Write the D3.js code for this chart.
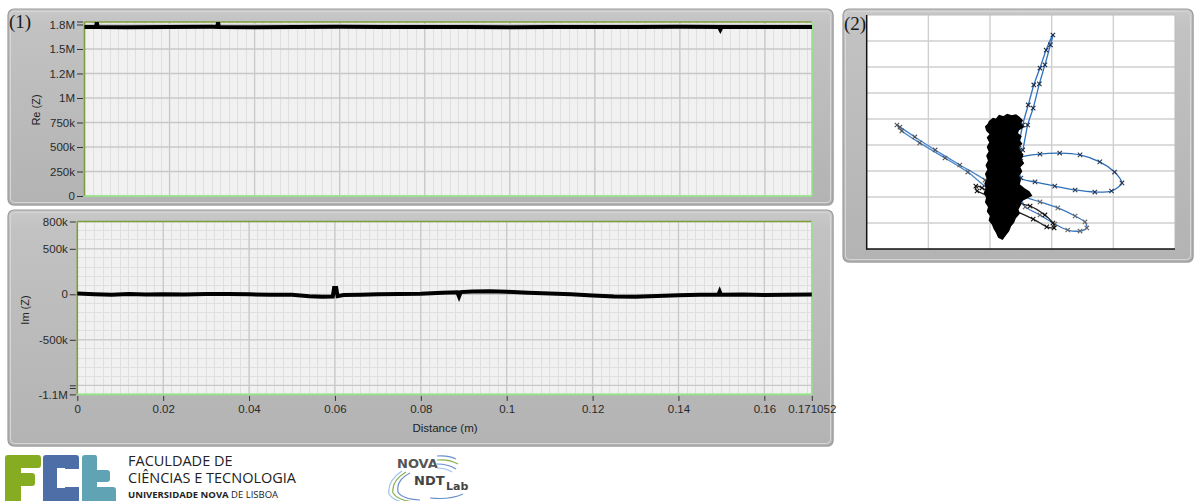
<!DOCTYPE html>
<html>
<head>
<meta charset="utf-8">
<script src="https://cdn.jsdelivr.net/npm/d3@7"></script>
<style>
  html, body { margin: 0; padding: 0; background: #ffffff; }
  svg { display: block; }
  text { font-family: "Liberation Sans", Arial, sans-serif; }
</style>
</head>
<body>
<svg id="chart" width="1195" height="501"></svg>
<script>
// ---- Data -------------------------------------------------------------
// Re(Z) along the scan (distance in m, impedance in ohm)
const reDist = [0, 0.0027, 0.0029, 0.0031, 0.01, 0.02, 0.03, 0.0312, 0.0314, 0.0316, 0.04, 0.05, 0.06, 0.07, 0.08, 0.09, 0.1, 0.11, 0.12, 0.13, 0.14, 0.1492, 0.1495, 0.1498, 0.16, 0.171052];
const reValue = [1725000, 1725000, 1772000, 1725000, 1723000, 1725000, 1726000, 1725000, 1772000, 1725000, 1723000, 1725000, 1726000, 1725000, 1724000, 1725000, 1723000, 1725000, 1724000, 1725000, 1726000, 1724000, 1698000, 1724000, 1725000, 1724000];

// Im(Z) along the scan
const imDist = [0, 0.004, 0.008, 0.012, 0.016, 0.02, 0.025, 0.03, 0.035, 0.04, 0.045, 0.05, 0.054, 0.057, 0.0595, 0.0598, 0.0603, 0.0606, 0.062, 0.066, 0.07, 0.075, 0.08, 0.085, 0.0885, 0.0889, 0.0893, 0.092, 0.096, 0.1, 0.105, 0.11, 0.115, 0.12, 0.125, 0.13, 0.135, 0.14, 0.145, 0.1493, 0.1496, 0.1499, 0.155, 0.16, 0.165, 0.171052];
const imValue = [8000, 0, -5000, 3000, -2000, 0, -3000, 2000, 4000, 0, -4000, -6000, -22000, -28000, -25000, 70000, 70000, -20000, -8000, -4000, 0, 3000, 6000, 18000, 22000, -25000, 24000, 32000, 34000, 28000, 18000, 10000, 0, -14000, -24000, -26000, -20000, -10000, -6000, -4000, 30000, -4000, -3000, -8000, -5000, -3000];

// Axis ticks
const reTicks = [0, 250000, 500000, 750000, 1000000, 1250000, 1500000, 1750000];
const reTickLabels = ["0", "250k", "500k", "750k", "1M", "1.2M", "1.5M", "1.8M"];
const imTicks = [800000, 500000, 0, -500000, -1000000, -1100000];
const imTickLabels = ["800k", "500k", "0", "-500k", "", "-1.1M"];
const distTicks = [0, 0.02, 0.04, 0.06, 0.08, 0.1, 0.12, 0.14, 0.16, 0.171052];
const distTickLabels = ["0", "0.02", "0.04", "0.06", "0.08", "0.1", "0.12", "0.14", "0.16", "0.171052"];

// Impedance-plane view (grid units): outline of the dense point cloud
const cloudU = [1.99, 2.05, 2.10, 2.15, 2.22, 2.28, 2.35, 2.42, 2.47, 2.52, 2.49, 2.54, 2.46, 2.44, 2.50, 2.47, 2.51, 2.45, 2.48, 2.53, 2.50, 2.54, 2.48, 2.51, 2.46, 2.49, 2.47, 2.55, 2.63, 2.67, 2.58, 2.51, 2.49, 2.45, 2.47, 2.41, 2.38, 2.33, 2.30, 2.25, 2.20, 2.14, 2.11, 2.07, 2.04, 1.99, 2.01, 1.96, 1.98, 1.93, 1.95, 1.91, 1.94, 1.92, 1.96, 1.93, 1.97, 1.94, 1.98, 1.95, 1.99, 1.96, 2.00, 1.96, 2.01, 1.95, 1.93, 1.97];
const cloudV = [4.90, 5.02, 4.98, 5.13, 5.08, 5.17, 5.12, 5.15, 5.06, 4.95, 4.82, 4.70, 4.58, 4.45, 4.33, 4.18, 4.05, 3.92, 3.78, 3.62, 3.45, 3.30, 3.15, 2.98, 2.82, 2.65, 2.48, 2.32, 2.20, 2.06, 1.95, 1.86, 1.70, 1.52, 1.36, 1.20, 1.02, 0.88, 0.70, 0.55, 0.38, 0.45, 0.62, 0.78, 0.95, 1.10, 1.28, 1.45, 1.62, 1.80, 1.98, 2.15, 2.35, 2.52, 2.70, 2.88, 3.05, 3.22, 3.40, 3.58, 3.75, 3.92, 4.10, 4.28, 4.42, 4.55, 4.70, 4.80];

// Excursion loops leaving the cloud
const loopUpU = [2.47, 2.53, 2.62, 2.71, 2.81, 2.91, 3.02, 2.98, 2.89, 2.80, 2.70, 2.61, 2.53];
const loopUpV = [3.88, 4.77, 5.54, 6.31, 6.96, 7.65, 8.23, 7.85, 7.08, 6.35, 5.42, 4.77, 3.81];
const loopLeftU = [1.92, 1.51, 1.11, 0.78, 0.54, 0.49, 0.57, 0.86, 1.27, 1.64, 1.95];
const loopLeftV = [2.65, 3.23, 3.81, 4.31, 4.69, 4.77, 4.54, 4.08, 3.50, 2.96, 2.35];
const loopRightU = [2.50, 2.81, 3.13, 3.46, 3.78, 4.02, 4.14, 3.97, 3.70, 3.38, 3.05, 2.73, 2.50];
const loopRightV = [3.50, 3.65, 3.69, 3.62, 3.35, 2.96, 2.54, 2.23, 2.19, 2.27, 2.42, 2.58, 2.73];
const loopLowU = [2.52, 2.81, 3.10, 3.38, 3.54, 3.57, 3.46, 3.26, 3.05, 2.81, 2.57];
const loopLowV = [2.00, 1.81, 1.58, 1.27, 1.04, 0.81, 0.69, 0.73, 0.96, 1.31, 1.62];
const loopSmallU = [1.77, 1.87, 2.16, 2.65, 2.89, 3.02, 3.04, 2.92, 2.70, 2.32, 1.97, 1.79];
const loopSmallV = [2.42, 2.35, 1.96, 1.65, 1.31, 1.00, 0.81, 0.85, 1.15, 1.58, 2.04, 2.23];

// ---- Drawing ------------------------------------------------------------
const svg = d3.select("#chart");
const defs = svg.append("defs");

const grad = defs.append("linearGradient").attr("id", "panelFill")
  .attr("x1", 0).attr("y1", 0).attr("x2", 0).attr("y2", 1);
grad.append("stop").attr("offset", "0%").attr("stop-color", "#c9c9c9");
grad.append("stop").attr("offset", "8%").attr("stop-color", "#c2c2c2");
grad.append("stop").attr("offset", "100%").attr("stop-color", "#b3b3b3");

function panel(x, y, w, h) {
  svg.append("rect").attr("x", x + 1).attr("y", y + 1).attr("width", w).attr("height", h)
    .attr("rx", 6).attr("fill", "#d9d9d9");
  svg.append("rect").attr("x", x).attr("y", y).attr("width", w).attr("height", h)
    .attr("rx", 6).attr("fill", "url(#panelFill)").attr("stroke", "#9a9a9a").attr("stroke-width", 1.2);
  svg.append("rect").attr("x", x + 2.5).attr("y", y + 2.5).attr("width", w - 5).attr("height", h - 5)
    .attr("rx", 4).attr("fill", "none").attr("stroke", "#d6d6d6").attr("stroke-width", 1);
}

panel(8, 9, 825, 196);
panel(8, 210, 825, 236);
panel(843, 9, 350, 253);

const domainX = [0, 0.171052];

// Shared grid + trace routine for the two strip charts
function stripChart(opts) {
  const { x, y, minorY, data, ticks, tickLabels, showX } = opts;
  const [x0, x1] = x.range();
  const [yb, yt] = y.range();
  const g = svg.append("g");
  g.append("rect").attr("x", x0).attr("y", yt).attr("width", x1 - x0).attr("height", yb - yt)
    .attr("fill", "#f1f1f1");

  // minor vertical grid every 0.002 m
  const minorX = d3.range(0, 0.171052, 0.002);
  g.selectAll(".mx").data(minorX).join("line")
    .attr("x1", d => x(d)).attr("x2", d => x(d)).attr("y1", yt).attr("y2", yb)
    .attr("stroke", "#dfdfdf").attr("stroke-width", 1).attr("shape-rendering", "crispEdges");
  if (minorY) {
    g.selectAll(".my").data(minorY).join("line")
      .attr("x1", x0).attr("x2", x1).attr("y1", d => y(d)).attr("y2", d => y(d))
      .attr("stroke", "#dfdfdf").attr("stroke-width", 1).attr("shape-rendering", "crispEdges");
  }
  // major grid
  g.selectAll(".gx").data(distTicks.slice(1, -1)).join("line")
    .attr("x1", d => x(d)).attr("x2", d => x(d)).attr("y1", yt).attr("y2", yb)
    .attr("stroke", "#c8c8c8").attr("stroke-width", 1.3);
  g.selectAll(".gy").data(ticks).join("line")
    .attr("x1", x0).attr("x2", x1).attr("y1", d => y(d)).attr("y2", d => y(d))
    .attr("stroke", "#c8c8c8").attr("stroke-width", 1.3);

  // plot border (olive on left/top, bright green on right/bottom)
  g.append("line").attr("x1", x0).attr("x2", x0).attr("y1", yt).attr("y2", yb).attr("stroke", "#7e9e3c").attr("stroke-width", 1.6);
  g.append("line").attr("x1", x0).attr("x2", x1).attr("y1", yt).attr("y2", yt).attr("stroke", "#7e9e3c").attr("stroke-width", 1.6);
  g.append("line").attr("x1", x1).attr("x2", x1).attr("y1", yt).attr("y2", yb).attr("stroke", "#8fe882").attr("stroke-width", 1.6);
  g.append("line").attr("x1", x0).attr("x2", x1).attr("y1", yb).attr("y2", yb).attr("stroke", "#8fe882").attr("stroke-width", 1.6);

  // trace
  const line = d3.line().x(d => x(d[0])).y(d => y(d[1]));
  g.append("path").datum(data).attr("d", line)
    .attr("fill", "none").attr("stroke", "#000").attr("stroke-width", 4)
    .attr("stroke-linejoin", "miter").attr("stroke-linecap", "butt");

  // y axis
  const ay = d3.axisLeft(y).tickValues(ticks)
    .tickFormat((d, i) => tickLabels[i]).tickSize(6).tickPadding(2);
  const gy = svg.append("g").attr("transform", `translate(${x0 - 1.5},0)`).call(ay);
  gy.select(".domain").remove();
  gy.selectAll(".tick line").attr("stroke", "#333");
  gy.selectAll(".tick text").attr("fill", "#2a2a2a").style("font-size", "11.5px")
    .style("font-family", "'Liberation Sans', Arial, sans-serif");
  if (opts.extraTick !== undefined) {
    svg.append("line").attr("x1", x0 - 7.5).attr("x2", x0 - 1.5)
      .attr("y1", y(opts.extraTick)).attr("y2", y(opts.extraTick)).attr("stroke", "#333");
  }

  if (showX) {
    const ax = d3.axisBottom(x).tickValues(distTicks)
      .tickFormat((d, i) => distTickLabels[i]).tickSize(5).tickPadding(4);
    const gx = svg.append("g").attr("transform", `translate(0,${yb + 1.5})`).call(ax);
    gx.select(".domain").remove();
    gx.selectAll(".tick line").attr("stroke", "#333");
    gx.selectAll(".tick text").attr("fill", "#2a2a2a").style("font-size", "11.5px")
      .style("font-family", "'Liberation Sans', Arial, sans-serif");
  }
}

// Re(Z) strip chart
const xRe = d3.scaleLinear(domainX, [84.5, 812]);
const yRe = d3.scaleLinear([0, 1775500], [196, 22]);
stripChart({
  x: xRe, y: yRe, minorY: null,
  data: reDist.map((d, i) => [d, reValue[i]]),
  ticks: reTicks, tickLabels: reTickLabels, showX: false, extraTick: 1775500
});

// Im(Z) strip chart
const xIm = d3.scaleLinear(domainX, [77.3, 811.8]);
const yIm = d3.scaleLinear([-1100000, 800000], [394.4, 221.5]);
stripChart({
  x: xIm, y: yIm, minorY: d3.range(-1100000, 800001, 100000),
  data: imDist.map((d, i) => [d, imValue[i]]),
  ticks: imTicks, tickLabels: imTickLabels, showX: true, extraTick: -1035000
});

// Axis titles
svg.append("text").attr("transform", "translate(40,110) rotate(-90)")
  .attr("text-anchor", "middle").style("font-size", "11px").attr("fill", "#222").text("Re (Z)");
svg.append("text").attr("transform", "translate(29,310) rotate(-90)")
  .attr("text-anchor", "middle").style("font-size", "11px").attr("fill", "#222").text("Im (Z)");
svg.append("text").attr("x", 445).attr("y", 432)
  .attr("text-anchor", "middle").style("font-size", "11.5px").attr("fill", "#222").text("Distance (m)");

// Panel numbers
svg.append("text").attr("x", 9).attr("y", 28).style("font-family", "'Liberation Serif', serif")
  .style("font-size", "19px").attr("fill", "#1a1a1a").text("(1)");
svg.append("text").attr("x", 844).attr("y", 30).style("font-family", "'Liberation Serif', serif")
  .style("font-size", "19px").attr("fill", "#1a1a1a").text("(2)");

// ---- Impedance-plane view -------------------------------------------------
const xP = d3.scaleLinear([0, 5], [866.7, 1175]);
const yP = d3.scaleLinear([0, 9], [249, 15]);
const gp = svg.append("g");
gp.append("rect").attr("x", 866.7).attr("y", 15).attr("width", 1175 - 866.7).attr("height", 249 - 15)
  .attr("fill", "#ffffff");
gp.selectAll(".pgx").data(d3.range(1, 5)).join("line")
  .attr("x1", d => xP(d)).attr("x2", d => xP(d)).attr("y1", 15).attr("y2", 249)
  .attr("stroke", "#cfcfcf").attr("stroke-width", 1.4);
gp.selectAll(".pgy").data(d3.range(1, 9)).join("line")
  .attr("x1", 866.7).attr("x2", 1175).attr("y1", d => yP(d)).attr("y2", d => yP(d))
  .attr("stroke", "#cfcfcf").attr("stroke-width", 1.4);
gp.append("line").attr("x1", 1175).attr("x2", 1175).attr("y1", 15).attr("y2", 249).attr("stroke", "#bbbbbb");
gp.append("line").attr("x1", 866.7).attr("x2", 1175).attr("y1", 15).attr("y2", 15).attr("stroke", "#bbbbbb");
gp.append("line").attr("x1", 866.7).attr("x2", 866.7).attr("y1", 15).attr("y2", 249.5).attr("stroke", "#111").attr("stroke-width", 1.5);
gp.append("line").attr("x1", 866).attr("x2", 1175).attr("y1", 249).attr("y2", 249).attr("stroke", "#111").attr("stroke-width", 1.5);

const loops = [
  { u: loopLeftU, v: loopLeftV, line: "#4a86c8", mark: "#555" },
  { u: loopRightU, v: loopRightV, line: "#2f6fb8", mark: "#2a3a55" },
  { u: loopLowU, v: loopLowV, line: "#3a76bd", mark: "#666" },
  { u: loopSmallU, v: loopSmallV, line: "#222", mark: "#111" },
  { u: loopUpU, v: loopUpV, line: "#2f70c0", mark: "#1c2b44" }
];
const pLine = d3.line().x(d => xP(d[0])).y(d => yP(d[1])).curve(d3.curveCardinalClosed.tension(0.3));
loops.forEach(L => {
  const pts = L.u.map((u, i) => [u, L.v[i]]);
  gp.append("path").datum(pts).attr("d", pLine)
    .attr("fill", "none").attr("stroke", L.line).attr("stroke-width", 1.3);
  gp.selectAll(null).data(pts).join("path")
    .attr("d", d => {
      const cx = xP(d[0]), cy = yP(d[1]), s = 2.2;
      return `M${cx - s},${cy - s}L${cx + s},${cy + s}M${cx - s},${cy + s}L${cx + s},${cy - s}`;
    })
    .attr("stroke", L.mark).attr("stroke-width", 1.1);
});

// dense cloud of points near the balance point
const cloudPts = cloudU.map((u, i) => [u, cloudV[i]]);
gp.append("path").datum(cloudPts)
  .attr("d", d3.line().x(d => xP(d[0])).y(d => yP(d[1])).curve(d3.curveLinearClosed))
  .attr("fill", "#000").attr("stroke", "#000").attr("stroke-width", 1.5).attr("stroke-linejoin", "miter");

// ---- Logos ---------------------------------------------------------------
const lg = svg.append("g");
// FCT blocks
lg.append("path").attr("fill", "#86ad22")
  .attr("d", "M8,455 H38 Q41,455 41,458 V465 Q41,468 38,468 H21 V473 H32 Q35,473 35,476 V483 Q35,486 32,486 H21 V501 H5 V458 Q5,455 8,455 Z");
lg.append("path").attr("fill", "#4d6ea6")
  .attr("d", "M46,455 H76 Q79,455 79,458 V469 H65 V468 H57 V488 H65 V487 H79 V501 H43 V458 Q43,455 46,455 Z");
lg.append("path").attr("fill", "#5fa3b4")
  .attr("d", "M85,455 H95 Q97,455 97,458 V470 H107 Q110,470 110,473 V479 Q110,482 107,482 H97 V487 H113 Q116,487 116,490 V501 H82 V458 Q82,455 85,455 Z");
lg.append("text").attr("x", 128).attr("y", 466).style("font-family", "'Open Sans', sans-serif")
  .style("font-size", "14.5px").attr("fill", "#222").text("FACULDADE DE");
lg.append("text").attr("x", 128).attr("y", 483).style("font-family", "'Open Sans', sans-serif")
  .style("font-size", "14.5px").attr("fill", "#222").text("CIÊNCIAS E TECNOLOGIA");
const uni = lg.append("text").attr("x", 128).attr("y", 498).style("font-family", "'Open Sans', sans-serif")
  .style("font-size", "9.5px").attr("fill", "#222");
uni.append("tspan").style("font-weight", "bold").text("UNIVERSIDADE NOVA ");
uni.append("tspan").text("DE LISBOA");

// NOVA NDT Lab mark
const nd = svg.append("g");
nd.append("text").attr("x", 397).attr("y", 468).style("font-family", "'DejaVu Sans', sans-serif")
  .style("font-weight", "bold").style("font-size", "13px").attr("fill", "#555").text("NOVA");
nd.append("text").attr("x", 414).attr("y", 485).style("font-family", "'DejaVu Sans', sans-serif")
  .style("font-weight", "bold").style("font-size", "13px").attr("fill", "#444").text("NDT");
nd.append("text").attr("x", 446).attr("y", 490).style("font-family", "'DejaVu Sans', sans-serif")
  .style("font-weight", "bold").style("font-size", "11px").attr("fill", "#444").text("Lab");
const arcs = [
  ["M437,456 Q448,455 456,459", "#6a8fcf"], ["M437,460 Q449,459 458,464", "#88b04b"],
  ["M437,464 Q448,464 456,469", "#6a8fcf"], ["M437,468 Q446,468 452,472", "#9cc2e8"],
  ["M410,473 Q396,480 398,492 Q402,499 420,500", "#6a8fcf"],
  ["M406,472 Q391,481 393,493 Q398,501 416,502", "#88b04b"],
  ["M402,471 Q387,481 389,494 Q394,502 410,503", "#9cc2e8"],
  ["M430,498 Q450,500 463,494", "#6a8fcf"]
];
arcs.forEach(a => nd.append("path").attr("d", a[0]).attr("fill", "none")
  .attr("stroke", a[1]).attr("stroke-width", 1.2));
</script>
</body>
</html>
